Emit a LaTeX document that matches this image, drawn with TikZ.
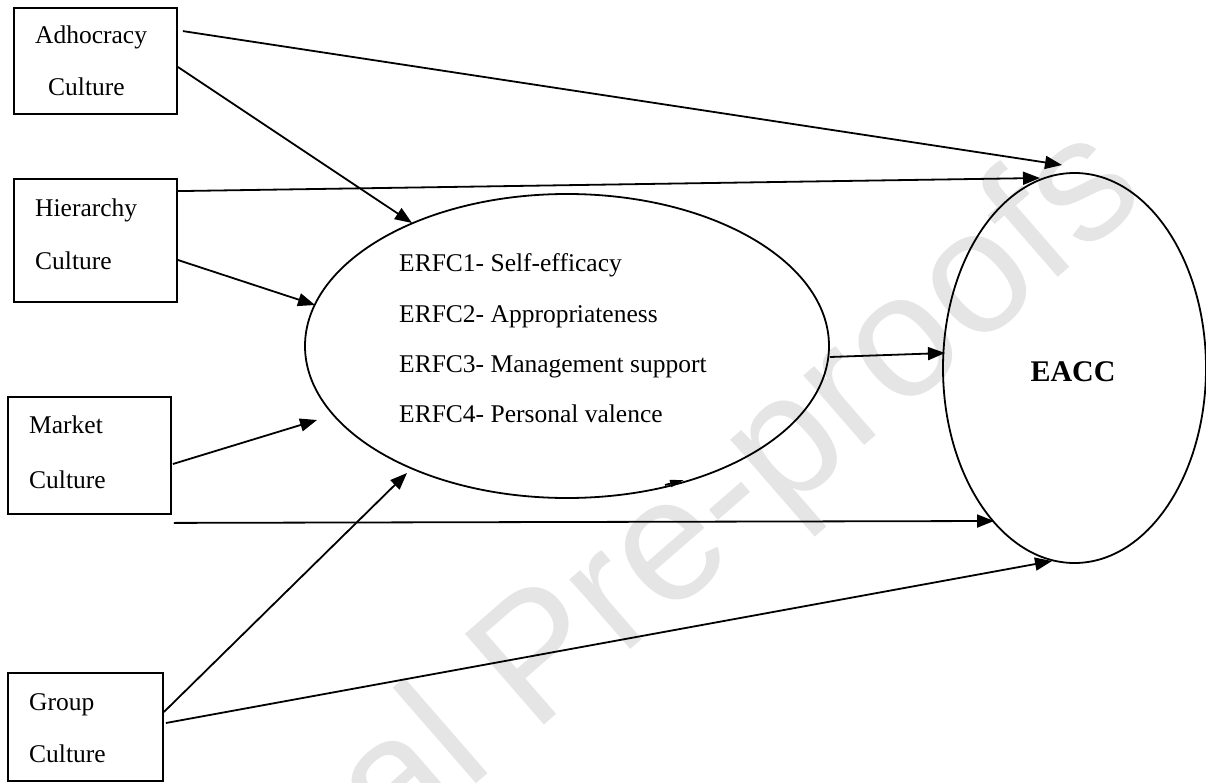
\documentclass[tikz,border=0pt]{standalone}
\usepackage{fontspec}
\setmainfont{Liberation Serif}
\newfontfamily\wmfont{Liberation Sans}
\usetikzlibrary{shapes.geometric,arrows.meta,calc}
\begin{document}
\begin{tikzpicture}[x=1pt,y=-1pt]
\tikzset{
  box/.style={draw, line width=1.8pt, rectangle, inner sep=0pt},
  lbl/.style={anchor=base west, inner sep=0pt, font=\fontsize{25.5}{30}\selectfont},
  oval/.style={draw, ellipse, line width=1.8pt, inner sep=0pt},
  arr/.style={line width=1.8pt, -{Triangle[length=17pt,width=13pt]}},
  smallarr/.style={line width=1.8pt, -{Triangle[length=14pt,width=7pt]}},
  wm/.style={rotate=41, anchor=base east, inner sep=0pt, text=black!10,
             font=\wmfont\fontsize{175}{175}\selectfont}
}
\useasboundingbox (0,0) rectangle (1206,783);
\begin{scope}
\clip (0,0) rectangle (1206,783);
\node[wm] (wmark) at (1150,198) {Journal Pre-proofs};
\end{scope}

% boxes
\node[box, minimum width=163pt, minimum height=106pt] (adh)  at (95.5,61) {};
\node[box, minimum width=163pt, minimum height=123pt] (hier) at (95.5,240.5) {};
\node[box, minimum width=163pt, minimum height=117pt] (mkt)  at (89.5,455.5) {};
\node[box, minimum width=155pt, minimum height=108pt] (grp)  at (85.5,727) {};

\node[lbl] (adh1) at (35,44) {Adhocracy};
\node[lbl] (adh2) at (48,96) {Culture};
\node[lbl] (hier1) at (35,217) {Hierarchy};
\node[lbl] (hier2) at (35,270) {Culture};
\node[lbl] (mkt1) at (29,433) {Market};
\node[lbl] (mkt2) at (29,488) {Culture};
\node[lbl] (grp1) at (29,710) {Group};
\node[lbl] (grp2) at (29,762) {Culture};

% ellipses
\node[oval, minimum width=524pt, minimum height=304pt] (erfc) at (567,346) {};
\node[oval, minimum width=263pt, minimum height=390pt] (eacc) at (1074.5,368) {};

\node[lbl] (e1) at (399,272) {ERFC1- Self-efficacy};
\node[lbl] (e2) at (399,322) {ERFC2- Appropriateness};
\node[lbl] (e3) at (399,372) {ERFC3- Management support};
\node[lbl] (e4) at (399,422) {ERFC4- Personal valence};
\node[anchor=base, inner sep=0pt, font=\fontsize{30}{34}\selectfont\bfseries] (eacct) at (1073,381) {EACC};

% tips
\coordinate (tAE) at ($(eacc.center)+(-12.5,-203)$);
\coordinate (tHE) at ($(eacc.center)+(-34.5,-190)$);
\coordinate (tME) at ($(eacc.center)+(-80.5,153)$);
\coordinate (tGE) at ($(eacc.center)+(-22.5,193)$);
\coordinate (tRE) at ($(eacc.center)+(-129.5,-15)$);
\coordinate (tAR) at ($(erfc.center)+(-155,-123)$);
\coordinate (tHR) at ($(erfc.center)+(-252,-41)$);
\coordinate (tMR) at ($(erfc.center)+(-250,74)$);
\coordinate (tGR) at ($(erfc.center)+(-160,127)$);

% connectors
\draw[arr] ($(adh.north east)+(5,24)$) -- (tAE);
\draw[arr] ($(adh.east)+(0,6)$) -- (tAR);
\draw[arr] ($(hier.north east)+(0,13)$) -- (tHE);
\draw[arr] ($(hier.east)+(0,19.5)$) -- (tHR);
\draw[arr] ($(mkt.east)+(1,8.5)$) -- (tMR);
\draw[arr] ($(mkt.south east)+(2,8)$) -- (tME);
\draw[arr] ($(grp.east)+(0,-15)$) -- (tGR);
\draw[arr] ($(grp.east)+(2,-4)$) -- (tGE);
\draw[arr] ($(erfc.east)+(0,11)$) -- (tRE);

% small arrowhead on ERFC border
\draw[smallarr] ($(erfc.center)+(98,139)$) -- ($(erfc.center)+(117,134)$);
\end{tikzpicture}
\end{document}
